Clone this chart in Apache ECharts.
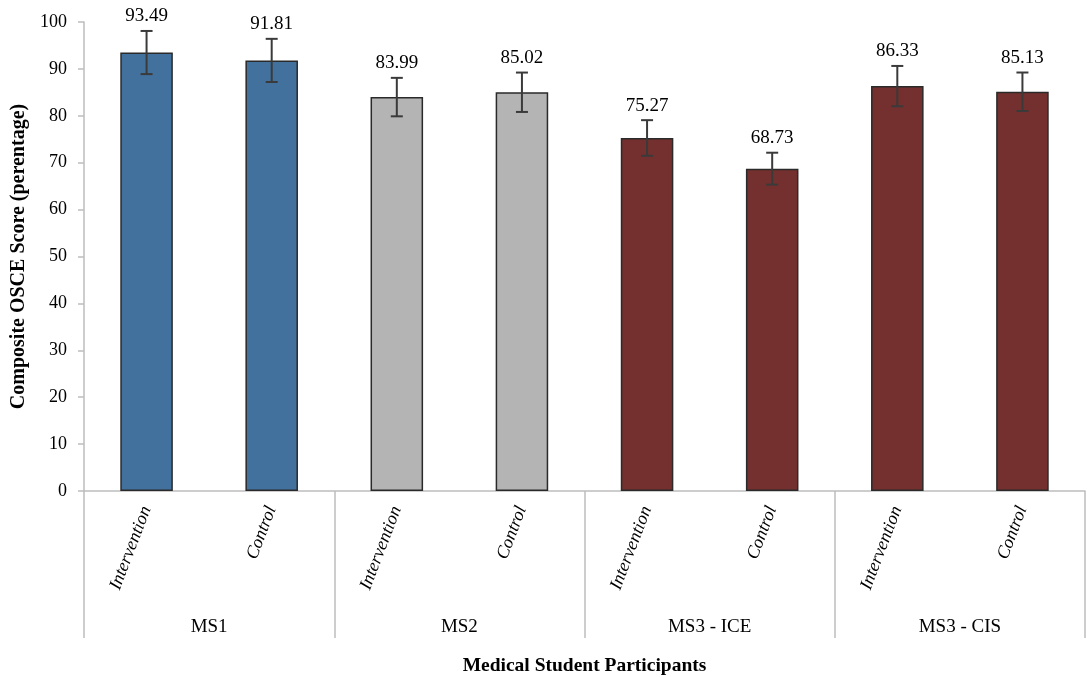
<!DOCTYPE html>
<html>
<head>
<meta charset="utf-8">
<script src="https://cdn.jsdelivr.net/npm/echarts@6/dist/echarts.min.js"></script>
<style>html,body{margin:0;padding:0;background:#fff}#c{width:1087px;height:677px}</style>
</head>
<body>
<div id="c"></div>
<script>
const categories = ['Intervention','Control','Intervention','Control','Intervention','Control','Intervention','Control'];
const groups = ['MS1','MS2','MS3 - ICE','MS3 - CIS'];
const values = [93.49, 91.81, 83.99, 85.02, 75.27, 68.73, 86.33, 85.13];
const errors = [4.6, 4.6, 4.1, 4.2, 3.8, 3.4, 4.3, 4.1];
const barGroupIndex = [0,0,1,1,2,2,3,3];
const groupColors = ['#43719e', '#b4b4b4', '#74302e', '#74302e'];
const yTicks = [0,10,20,30,40,50,60,70,80,90,100];

const FONT = '"Liberation Serif", "Times New Roman", serif';
const chart = echarts.init(document.getElementById('c'));

chart.setOption({
  animation: false,
  grid: { left: 84, right: 2, top: 22, bottom: 186, outerBoundsMode: 'none', containLabel: false },
  xAxis: [
    {
      type: 'category',
      data: categories,
      position: 'bottom',
      axisLine: { show: true, lineStyle: { color: '#bdbdbd', width: 1.5 } },
      axisTick: { show: false },
      axisLabel: {
        interval: 0, rotate: 69, margin: 16,
        fontFamily: FONT, fontSize: 18, fontStyle: 'italic', color: '#000'
      }
    },
    {
      type: 'category',
      data: groups,
      position: 'bottom',
      axisLine: { show: false },
      axisTick: { show: true, interval: 0, length: 147, alignWithLabel: false, lineStyle: { color: '#bdbdbd', width: 1.5 } },
      axisLabel: { interval: 0, margin: 127, fontFamily: FONT, fontSize: 19, color: '#000' },
      name: 'Medical Student Participants',
      nameLocation: 'middle',
      nameGap: 165,
      nameTextStyle: { fontFamily: FONT, fontSize: 19.5, fontWeight: 'bold', color: '#000' }
    }
  ],
  yAxis: {
    type: 'value',
    min: yTicks[0], max: yTicks[yTicks.length - 1], interval: 10,
    axisLine: { show: true, lineStyle: { color: '#bdbdbd', width: 1.5 } },
    axisTick: { show: true, length: 6, lineStyle: { color: '#bdbdbd', width: 1.5 } },
    splitLine: { show: false },
    axisLabel: { fontFamily: FONT, fontSize: 18, color: '#000', margin: 17 },
    name: 'Composite OSCE Score (perentage)',
    nameLocation: 'middle',
    nameGap: 52,
    nameTextStyle: { fontFamily: FONT, fontSize: 20, fontWeight: 'bold', color: '#000' }
  },
  series: [
    {
      type: 'bar',
      xAxisIndex: 0,
      barWidth: '42%',
      data: values.map((v, i) => ({
        value: v,
        itemStyle: { color: groupColors[barGroupIndex[i]], borderColor: '#2a2a2a', borderWidth: 1.5 }
      }))
    },
    {
      type: 'custom',
      xAxisIndex: 0,
      data: values.map((v, i) => [i, v - errors[i], v + errors[i], v]),
      z: 10,
      renderItem: function (params, api) {
        const x = api.value(0);
        const lo = api.coord([x, api.value(1)]);
        const hi = api.coord([x, api.value(2)]);
        const hw = 6;
        const st = { stroke: '#3a3a3a', lineWidth: 2 };
        return {
          type: 'group',
          children: [
            { type: 'line', shape: { x1: hi[0], y1: hi[1], x2: lo[0], y2: lo[1] }, style: st },
            { type: 'line', shape: { x1: hi[0] - hw, y1: hi[1], x2: hi[0] + hw, y2: hi[1] }, style: st },
            { type: 'line', shape: { x1: lo[0] - hw, y1: lo[1], x2: lo[0] + hw, y2: lo[1] }, style: st },
            { type: 'text', style: {
                x: hi[0], y: hi[1] - 5,
                text: api.value(3).toFixed(2),
                align: 'center', verticalAlign: 'bottom',
                font: '19px ' + FONT, fill: '#000'
              } }
          ]
        };
      }
    }
  ]
});
</script>
</body>
</html>
